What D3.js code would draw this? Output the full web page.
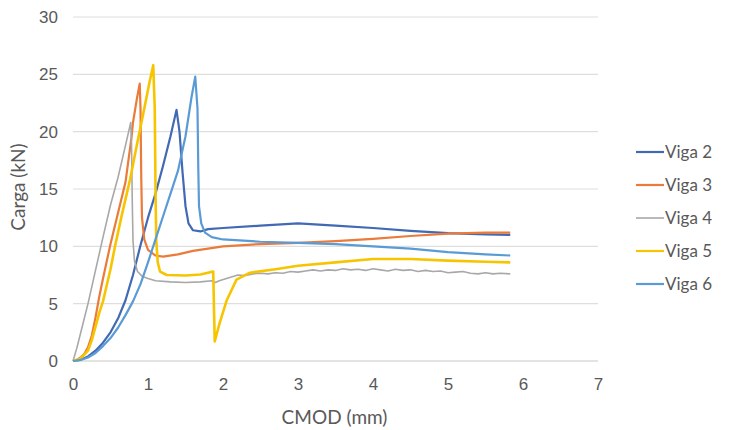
<!DOCTYPE html>
<html>
<head>
<meta charset="utf-8">
<script src="https://cdn.jsdelivr.net/npm/d3@7"></script>
<style>
  body { margin: 0; background: #fff; }
  svg { font-family: Lato, "Open Sans", sans-serif; }
</style>
</head>
<body>
<svg width="736" height="430"></svg>
<script>
// valores: [CMOD (mm), Carga (kN)]
const viga2 = [[0,0],[0.1,0.1],[0.2,0.4],[0.3,0.9],[0.4,1.6],[0.5,2.5],[0.6,3.7],[0.7,5.3],[0.8,7.5],[0.9,10.1],[1.0,12.5],[1.1,14.6],[1.2,17.0],[1.3,19.6],[1.38,21.9],[1.42,20.0],[1.46,16.5],[1.5,13.5],[1.54,12.0],[1.6,11.4],[1.7,11.3],[1.8,11.5],[2.0,11.6],[2.5,11.8],[3.0,12.0],[3.5,11.8],[4.0,11.6],[4.5,11.35],[5.0,11.15],[5.5,11.05],[5.83,11.0]];
const viga3 = [[0,0],[0.05,0.1],[0.1,0.3],[0.15,0.6],[0.2,1.2],[0.25,2.2],[0.3,3.8],[0.35,5.6],[0.4,7.2],[0.45,8.7],[0.5,10.2],[0.6,12.9],[0.7,15.6],[0.78,19.5],[0.8,20.8],[0.85,22.8],[0.89,24.2],[0.9,22],[0.91,16],[0.92,12.5],[0.95,10.6],[1.0,9.7],[1.1,9.2],[1.2,9.1],[1.4,9.3],[1.6,9.6],[1.8,9.8],[2.0,10.0],[2.5,10.2],[3.0,10.3],[3.5,10.45],[4.0,10.65],[4.5,10.9],[5.0,11.1],[5.5,11.2],[5.83,11.2]];
const viga4 = [[0,0],[0.05,1.1],[0.1,2.4],[0.2,5.0],[0.3,7.9],[0.4,10.8],[0.5,13.6],[0.6,16.0],[0.7,18.8],[0.77,20.8],[0.78,19],[0.79,14],[0.8,10.5],[0.82,8.7],[0.86,7.8],[0.92,7.4],[1.0,7.2],[1.1,7.0],[1.3,6.9],[1.5,6.85],[1.7,6.9],[1.85,7.0],[1.9,6.85],[1.95,7.0],[2.1,7.3],[2.2,7.5],[2.3,7.45],[2.4,7.6],[2.5,7.65],[2.6,7.6],[2.7,7.7],[2.8,7.65],[2.9,7.8],[3.0,7.75],[3.1,7.85],[3.2,7.95],[3.3,7.85],[3.4,7.95],[3.5,7.9],[3.6,8.05],[3.7,7.95],[3.8,8.0],[3.9,7.9],[4.0,8.05],[4.1,7.95],[4.2,7.85],[4.3,8.0],[4.4,7.9],[4.5,7.95],[4.6,7.8],[4.7,7.9],[4.8,7.8],[4.9,7.85],[5.0,7.7],[5.1,7.75],[5.2,7.8],[5.3,7.65],[5.4,7.6],[5.5,7.7],[5.6,7.6],[5.7,7.65],[5.83,7.6]];
const viga5 = [[0,0],[0.1,0.2],[0.2,0.9],[0.25,1.8],[0.3,3.0],[0.35,4.2],[0.4,5.2],[0.45,6.6],[0.5,8.0],[0.56,10.0],[0.65,12.7],[0.76,15.8],[0.85,18.8],[0.95,22.0],[1.02,24.3],[1.07,25.8],[1.09,22],[1.1,15],[1.11,10.5],[1.13,8.6],[1.16,7.8],[1.25,7.5],[1.5,7.45],[1.7,7.55],[1.87,7.8],[1.88,4.5],[1.89,1.7],[1.95,3.2],[2.05,5.3],[2.18,7.1],[2.36,7.7],[2.7,8.0],[3.0,8.3],[3.5,8.6],[4.0,8.9],[4.5,8.9],[5.0,8.75],[5.5,8.65],[5.83,8.6]];
const viga6 = [[0,0],[0.1,0.1],[0.2,0.3],[0.3,0.7],[0.4,1.3],[0.5,2.0],[0.6,2.9],[0.7,4.0],[0.8,5.2],[0.9,6.7],[1.0,8.6],[1.1,10.6],[1.2,12.6],[1.3,14.6],[1.4,16.6],[1.5,19.6],[1.58,23.0],[1.63,24.8],[1.66,22.0],[1.67,17.0],[1.68,13.5],[1.71,12.0],[1.76,11.2],[1.85,10.8],[2.0,10.6],[2.5,10.4],[3.0,10.3],[3.5,10.2],[4.0,10.0],[4.5,9.8],[5.0,9.5],[5.5,9.3],[5.83,9.2]];

const seriesNames = ["Viga 2", "Viga 3", "Viga 4", "Viga 5", "Viga 6"];
const seriesData = [viga2, viga3, viga4, viga5, viga6];
const seriesColors = ["#4169b4", "#ea7b3a", "#a8a8a8", "#f7c500", "#5b9bd5"];
const xTicks = [0, 1, 2, 3, 4, 5, 6, 7];
const yTicks = [0, 5, 10, 15, 20, 25, 30];

const margin = { top: 17, left: 73 },
      width = 525,
      height = 344;

const svg = d3.select("svg")
  .append("g")
  .attr("transform", `translate(${margin.left},${margin.top})`);

const x = d3.scaleLinear().domain([0, 7]).range([0, width]);
const y = d3.scaleLinear().domain([0, 30]).range([height, 0]);

// líneas de cuadrícula horizontales
svg.append("g")
  .selectAll("line")
  .data(yTicks)
  .enter().append("line")
  .attr("x1", 0)
  .attr("x2", width)
  .attr("y1", d => y(d))
  .attr("y2", d => y(d))
  .attr("stroke", d => d === 0 ? "#c8c8c8" : "#dedede")
  .attr("stroke-width", 1.2);

// ejes sin marcas
const yAxis = svg.append("g")
  .call(d3.axisLeft(y).tickValues(yTicks).tickSize(0).tickPadding(15));
yAxis.select(".domain").remove();
yAxis.selectAll("text")
  .attr("fill", "#595959")
  .style("font-size", "17px");

const xAxis = svg.append("g")
  .attr("transform", `translate(0,${height})`)
  .call(d3.axisBottom(x).tickValues(xTicks).tickFormat(d3.format("d")).tickSize(0).tickPadding(17));
xAxis.select(".domain").remove();
xAxis.selectAll("text")
  .attr("fill", "#595959")
  .style("font-size", "17px");

// curvas
const line = d3.line()
  .x(d => x(d[0]))
  .y(d => y(d[1]));

svg.append("g")
  .selectAll("path")
  .data(seriesData)
  .enter().append("path")
  .attr("d", line)
  .attr("fill", "none")
  .attr("stroke", (d, i) => seriesColors[i])
  .attr("stroke-width", (d, i) => i === 3 ? 2.6 : i === 2 ? 1.6 : 2.2)
  .attr("stroke-linejoin", "round");

// títulos de ejes
svg.append("text")
  .attr("text-anchor", "middle")
  .attr("x", width / 2 - 1)
  .attr("y", height + 63)
  .attr("fill", "#595959")
  .style("font-size", "19px")
  .text("CMOD (mm)");

svg.append("text")
  .attr("text-anchor", "middle")
  .attr("transform", "rotate(-90)")
  .attr("x", -height / 2 + 2)
  .attr("y", -48)
  .attr("fill", "#595959")
  .style("font-size", "19px")
  .text("Carga (kN)");

// leyenda
const legend = d3.select("svg").append("g")
  .attr("transform", "translate(636,152)");

seriesNames.forEach((name, i) => {
  const row = legend.append("g")
    .attr("transform", `translate(0, ${i * 33})`);

  row.append("line")
    .attr("x1", 0)
    .attr("x2", 28)
    .attr("stroke", seriesColors[i])
    .attr("stroke-width", i === 2 ? 1.6 : 2.2);

  row.append("text")
    .attr("x", 29)
    .attr("y", 6)
    .attr("fill", "#595959")
    .style("font-size", "17px")
    .text(name);
});
</script>
</body>
</html>
